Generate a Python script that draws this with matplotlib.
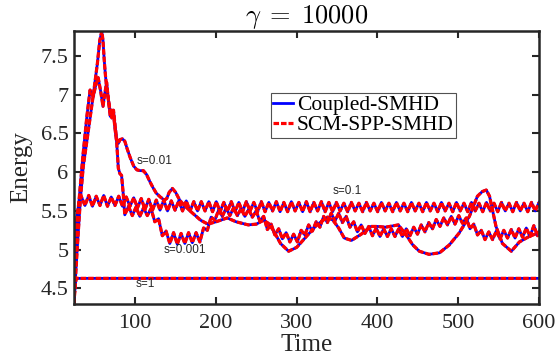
import numpy as np
import matplotlib
matplotlib.use('Agg')
import matplotlib.pyplot as plt

plt.rcParams['font.family'] = 'Liberation Serif'
plt.rcParams['mathtext.fontset'] = 'cm'
plt.rcParams['lines.scale_dashes'] = False

# ---- data ----
# s = 1
s1_t = [24, 25.5, 27, 600]
s1_E = [4.30, 4.55, 4.63, 4.63]

# s = 0.1 : fast rise then steady oscillation (half period ~4.65)
s01_t_start = [24, 25, 26.5, 28, 30]
s01_E_start = [4.30, 4.75, 5.30, 5.45, 5.60]
s01_t0, s01_dt = 33, 4.65
s01_E_osc = [5.69, 5.57, 5.70, 5.56, 5.69, 5.57, 5.70, 5.56, 5.68, 5.57,
             5.69, 5.56, 5.68, 5.56, 5.67,
             5.54, 5.66, 5.52, 5.65, 5.51, 5.64, 5.51, 5.64, 5.50, 5.63,
             5.51, 5.63, 5.50, 5.63, 5.50, 5.62, 5.50, 5.62, 5.50, 5.62,
             5.49, 5.62,
             5.49, 5.61, 5.50, 5.62, 5.49, 5.61, 5.49, 5.62, 5.50, 5.61,
             5.49, 5.62, 5.49, 5.61, 5.50, 5.62, 5.49, 5.61, 5.49, 5.62,
             5.50, 5.61, 5.49, 5.62, 5.49, 5.61, 5.50, 5.62, 5.49, 5.61,
             5.49, 5.61, 5.50, 5.60, 5.49, 5.61, 5.50, 5.60, 5.49, 5.61,
             5.50, 5.60, 5.49, 5.61, 5.50, 5.60, 5.49, 5.61, 5.50, 5.60,
             5.49, 5.61, 5.50, 5.60, 5.49, 5.61, 5.50, 5.60, 5.49, 5.61,
             5.50, 5.60, 5.49, 5.61, 5.50, 5.60, 5.49, 5.61, 5.50, 5.60,
             5.49, 5.61, 5.50, 5.60, 5.49, 5.61, 5.50, 5.60, 5.49, 5.61,
             5.50, 5.60, 5.49, 5.61, 5.50, 5.61]

# s = 0.01 : smooth curve
s001_t = [24, 28, 32, 35.6, 40, 44, 48, 53, 56, 58.5, 60, 61.5, 63, 65, 67,
          69, 71, 73, 75, 77, 79, 81, 84, 87, 90, 94, 98, 102, 106, 110,
          114, 118, 122, 126, 131, 136, 139, 142, 146, 150, 155, 160, 169,
          181, 190, 200, 214, 225, 240, 250, 259, 265, 271, 280, 290, 300,
          312, 325, 338, 345, 352, 359, 368, 380, 392, 400, 410, 426, 435,
          444, 452, 464, 477, 489, 501, 514, 524, 530, 535, 539, 547, 555,
          566, 576, 588, 600]
s001_E = [4.30, 5.00, 5.65, 6.08, 6.40, 6.70, 7.00, 7.40, 7.70, 7.82, 7.70,
          7.45, 7.25, 7.05, 6.92, 6.78, 6.70, 6.80, 6.60, 6.42, 6.37, 6.42,
          6.43, 6.40, 6.30, 6.18, 6.08, 6.03, 6.02, 6.02, 5.97, 5.88, 5.80,
          5.73, 5.68, 5.64, 5.66, 5.74, 5.79, 5.74, 5.64, 5.58, 5.49, 5.38,
          5.33, 5.36, 5.41, 5.36, 5.32, 5.33, 5.38, 5.34, 5.25, 5.08, 4.98,
          5.03, 5.17, 5.32, 5.42, 5.38, 5.28, 5.15, 5.12, 5.20, 5.30, 5.30,
          5.29, 5.32, 5.20, 5.06, 4.98, 4.94, 4.96, 5.06, 5.21, 5.43, 5.69,
          5.75, 5.77, 5.69, 5.30, 5.08, 4.98, 5.10, 5.17, 5.22]

# s = 0.001 : early peak then oscillation (half period ~4.65)
s0001_t_start = [24, 27, 30, 35, 40, 44, 46, 48, 51, 54, 57, 60, 62, 64.5,
                 67, 69, 71, 73, 75, 77, 79, 81, 83, 85]
s0001_E_start = [4.30, 5.00, 5.60, 6.20, 6.72, 7.06, 7.00, 6.98, 7.12, 7.22,
                 7.05, 6.85, 7.00, 7.16, 6.90, 6.72, 6.80, 6.75, 6.55, 6.38,
                 6.05, 5.98, 5.96, 5.73]
s0001_t0, s0001_dt = 87, 4.65
s0001_E_osc = [5.45, 5.56, 5.44, 5.55, 5.43, 5.54, 5.44, 5.53,
               5.36, 5.40, 5.18, 5.24,
               5.08, 5.22, 5.07, 5.21, 5.08, 5.22, 5.09, 5.22, 5.10,
               5.28, 5.25, 5.42, 5.38, 5.51, 5.43,
               5.54, 5.44, 5.54, 5.44, 5.53, 5.43, 5.52, 5.42, 5.50,
               5.37, 5.43, 5.26, 5.33, 5.19, 5.27, 5.14, 5.22, 5.10, 5.20,
               5.10, 5.25, 5.19, 5.32, 5.24, 5.36, 5.29, 5.43, 5.35, 5.47,
               5.37, 5.47, 5.35, 5.43, 5.29, 5.36, 5.23, 5.32, 5.21, 5.30,
               5.18, 5.28, 5.17, 5.27, 5.17, 5.27, 5.17, 5.27, 5.17, 5.27,
               5.18, 5.29, 5.20, 5.32, 5.23, 5.35, 5.27, 5.39, 5.30, 5.41,
               5.32, 5.43, 5.33, 5.44, 5.34, 5.41, 5.27, 5.33, 5.19, 5.25,
               5.13, 5.23, 5.13, 5.24, 5.14, 5.25, 5.15, 5.26, 5.15, 5.27,
               5.16, 5.28, 5.17, 5.31, 5.18, 5.30]

labels = ['s=1', 's=0.1', 's=0.01', 's=0.001']
label_pos = [(100, 4.56), (345, 5.76), (102, 6.14), (135, 5.00)]

# build curves
s01_t = np.concatenate([s01_t_start, s01_t0 + s01_dt * np.arange(len(s01_E_osc))])
s01_E = np.concatenate([s01_E_start, s01_E_osc])
s0001_t = np.concatenate([s0001_t_start, s0001_t0 + s0001_dt * np.arange(len(s0001_E_osc))])
s0001_E = np.concatenate([s0001_E_start, s0001_E_osc])

curves = [(s1_t, s1_E), (s01_t, s01_E), (s001_t, s001_E), (s0001_t, s0001_E)]

fig = plt.figure(figsize=(5.56, 3.58), dpi=100)
ax = fig.add_axes([0.133, 0.151, 0.836, 0.762])

for i, (t, E) in enumerate(curves):
    ax.plot(t, E, color='b', lw=2.0, label='Coupled-SMHD' if i == 0 else None)
for i, (t, E) in enumerate(curves):
    ax.plot(t, E, color='r', lw=2.3, dashes=(4, 1.4),
            label='SCM-SPP-SMHD' if i == 0 else None)

for lab, (x, y) in zip(labels, label_pos):
    ax.text(x, y, lab, fontsize=8.5, family='Liberation Sans', color='#262626',
            ha='left', va='center')

ax.set_xlim(24, 600)
ax.set_ylim(4.3, 7.82)
ax.set_xticks([100, 200, 300, 400, 500, 600])
ax.set_yticks([4.5, 5, 5.5, 6, 6.5, 7, 7.5])
ax.set_yticklabels(['4.5', '5', '5.5', '6', '6.5', '7', '7.5'])
ax.tick_params(direction='in', top=True, right=True, length=5, width=1.5,
               labelsize=16, colors='#262626')
ax.tick_params(axis='x', pad=7)
ax.tick_params(axis='y', pad=4)
for sp in ax.spines.values():
    sp.set_linewidth(1.8)
    sp.set_color('#262626')

ax.set_xlabel('Time', fontsize=18, color='#262626', labelpad=1)
ax.set_ylabel('Energy', fontsize=18, color='#262626', labelpad=6)
ax.set_title(r'$\gamma\;=\;10000$', fontsize=19, pad=6)

leg = ax.legend(loc='upper left', bbox_to_anchor=(0.424, 0.773), fontsize=15.5,
                frameon=True, fancybox=False, borderaxespad=0, borderpad=0.1,
                labelspacing=0.0, handlelength=0.9, handletextpad=0.2)
leg.get_frame().set_edgecolor('#262626')
leg.get_frame().set_linewidth(0.8)

fig.savefig('out.png', dpi=100)
